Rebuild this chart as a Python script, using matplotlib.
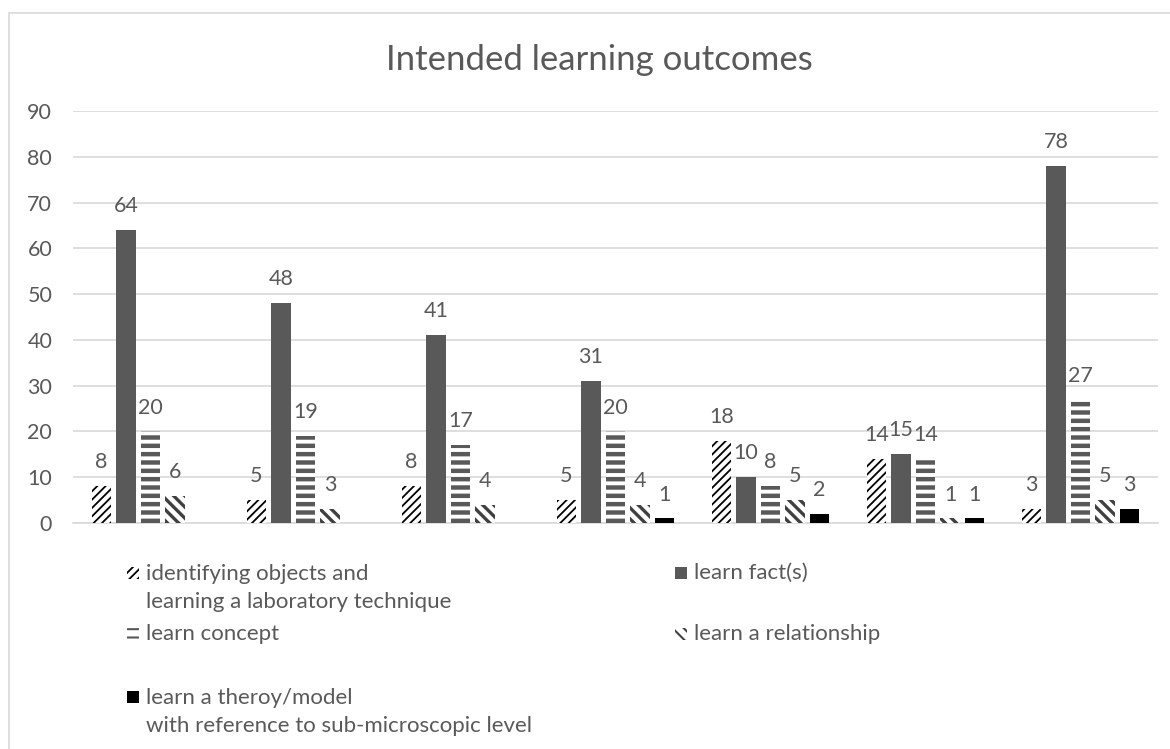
import numpy as np
import matplotlib
matplotlib.use("Agg")
import matplotlib.pyplot as plt
from matplotlib.patches import Rectangle

plt.rcParams['font.family'] = ['Lato', 'DejaVu Sans']

# data (nan = no bar / no label)
groups = np.arange(7)
identifying = [8, 5, 8, 5, 18, 14, 3]
facts = [64, 48, 41, 31, 10, 15, 78]
concept = [20, 19, 17, 20, 8, 14, 27]
relationship = [6, 3, 4, 4, 5, 1, 5]
theory = [np.nan, np.nan, np.nan, 1, 2, 1, 3]

labels = ["identifying objects and\nlearning a laboratory technique",
          "learn fact(s)",
          "learn concept",
          "learn a relationship",
          "learn a theroy/model\nwith reference to sub-microscopic level"]
values = [identifying, facts, concept, relationship, theory]

# style per series: face, hatch colour, hatch, hatch linewidth
styles = [
    ("white", "black", "////", 1.3),
    ("#595959", "#595959", None, 1.0),
    ("white", "#595959", "--", 3.2),
    ("white", "#404040", "\\\\\\", 2.4),
    ("black", "black", None, 1.0),
]

txt = "#595959"
grid = "#d9d9d9"

fig = plt.figure(figsize=(11.7, 7.49), dpi=100)
# outer chart border
fig.patches.append(Rectangle((9 / 1170, -0.1), 1.2, 1 - 13 / 749 + 0.1,
                             transform=fig.transFigure, fill=False,
                             edgecolor=grid, linewidth=1.2))

ax = fig.add_axes([73 / 1170, 1 - 523 / 749, 1085 / 1170, 412 / 749])

slot = 0.158
width = 0.123
for i, (vals, st) in enumerate(zip(values, styles)):
    face, hc, hatch, hlw = st
    offs = (i - 2) * slot
    bars = ax.bar(groups + offs, vals, width, color=face, edgecolor=hc,
                  linewidth=0, hatch=hatch, zorder=3)
    for p in bars.patches:
        if hasattr(p, "set_hatch_linewidth"):
            p.set_hatch_linewidth(hlw)
    lbls = ["" if np.isnan(v) else "%d" % v for v in np.asarray(vals, float)]
    ax.bar_label(bars, labels=lbls, padding=10, color=txt, fontsize=15.5)

ax.set_xlim(-0.5, 6.5)
ax.set_ylim(0, 90)
ax.set_yticks(np.arange(0, 91, 10))
ax.set_xticks([])
ax.tick_params(axis="y", length=0, pad=15, labelsize=15.5, labelcolor=txt)
ax.grid(axis="y", color=grid, linewidth=1.2, zorder=0)
for s in ["top", "right", "left"]:
    ax.spines[s].set_visible(False)
ax.spines["bottom"].set_color(grid)
ax.spines["bottom"].set_linewidth(1.2)

fig.text(599 / 1170, 1 - 60 / 749, "Intended learning outcomes",
         ha="center", va="center", fontsize=25, color=txt)

# legend laid out like the Excel one: two columns, uneven rows
# (marker left x, first-line baseline y) in pixels
leg_pos = [(127, 579), (675, 579), (127, 640), (675, 640), (127, 703)]
line_h = 28.5
for (x, yb), lab, st in zip(leg_pos, labels, styles):
    face, hc, hatch, hlw = st
    r = Rectangle((x / 1170, 1 - yb / 749), 12 / 1170, 12 / 749,
                  transform=fig.transFigure, facecolor=face, edgecolor=hc,
                  linewidth=0, hatch=hatch)
    if hasattr(r, "set_hatch_linewidth"):
        r.set_hatch_linewidth(min(hlw, 1.5))
    fig.patches.append(r)
    n = lab.count("\n")
    fig.text((x + 19) / 1170, 1 - (yb + n * line_h) / 749, lab, ha="left",
             va="baseline", fontsize=16, color=txt, linespacing=1.5)

fig.savefig("out.png", dpi=100)
